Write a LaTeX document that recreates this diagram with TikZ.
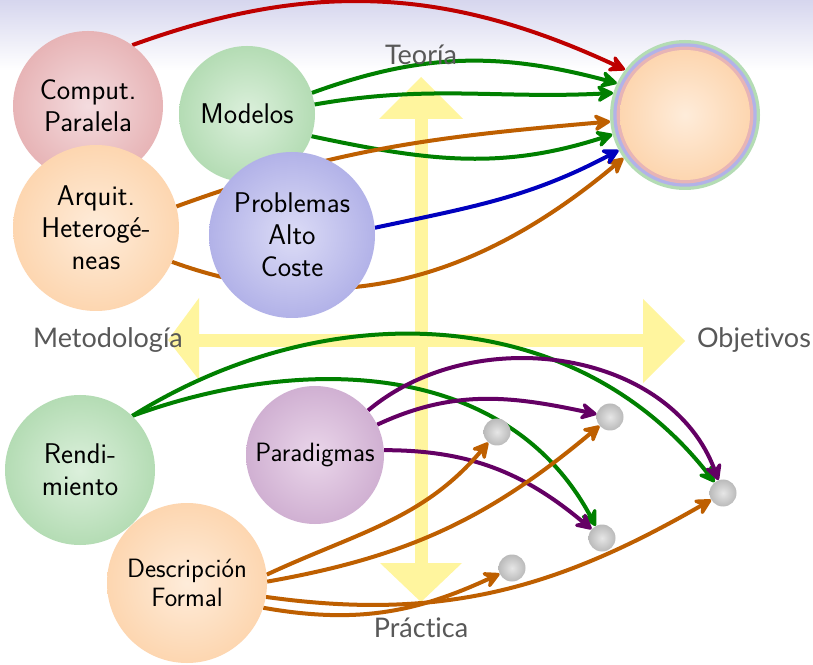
\documentclass[tikz,border=0pt]{standalone}
\usepackage{fontspec}
\newfontfamily\axisfont[Ligatures=NoCommon]{Lato}
\usetikzlibrary{arrows.meta}
\pgfdeclarelayer{back}
\pgfdeclarelayer{links}
\pgfsetlayers{back,links,main}

\definecolor{pinkE}{RGB}{231,180,182}
\definecolor{pinkC}{RGB}{244,220,223}
\definecolor{greenE}{RGB}{180,220,180}
\definecolor{greenC}{RGB}{220,240,220}
\definecolor{peachE}{RGB}{253,214,176}
\definecolor{peachC}{RGB}{254,236,218}
\definecolor{blueE}{RGB}{178,178,232}
\definecolor{blueC}{RGB}{220,220,246}
\definecolor{violetE}{RGB}{208,176,210}
\definecolor{violetC}{RGB}{234,214,234}
\definecolor{dotE}{RGB}{186,186,186}
\definecolor{dotC}{RGB}{230,230,230}
\definecolor{axisYellow}{RGB}{255,245,158}
\definecolor{axisText}{RGB}{88,88,88}
\definecolor{cRed}{RGB}{190,0,0}
\definecolor{cGreen}{RGB}{0,128,0}
\definecolor{cOrange}{RGB}{190,95,0}
\definecolor{cBlue}{RGB}{0,0,190}
\definecolor{cViolet}{RGB}{100,0,100}
\definecolor{topBand}{RGB}{214,214,238}

\newcommand\bubblefont{\fontsize{28.5}{32}\selectfont\sffamily}
\newcommand\smallbubblefont{\fontsize{26.5}{29}\selectfont\sffamily}

\begin{document}
\begin{tikzpicture}[x=1pt,y=1pt,
  bubble/.style={circle, inner sep=0pt, align=center, font=\bubblefont, text=black},
  goal/.style={circle, inner sep=0pt, minimum size=27pt, inner color=dotC, outer color=dotE},
  axislabel/.style={font=\axisfont\fontsize{27}{32}\selectfont, text=axisText, anchor=base, inner sep=0pt},
  link/.style={line width=4pt, -{Stealth[length=21pt,width=22pt,inset=8pt,round]}}]
\useasboundingbox (0,0) rectangle (813,664);

% header band and the two axes
\begin{pgfonlayer}{back}
  \fill[white] (0,0) rectangle (813,664);
  \shade[top color=topBand, bottom color=white] (0,594) rectangle (813,664);
  \fill[axisYellow] (414.5,101) rectangle (427.5,545);
  \fill[axisYellow] (379,545) -- (463,545) -- (421,587) -- cycle;
  \fill[axisYellow] (380,101) -- (462,101) -- (421,62) -- cycle;
  \fill[axisYellow] (199,317) rectangle (643,330);
  \fill[axisYellow] (199,366) -- (199,284) -- (168,324) -- cycle;
  \fill[axisYellow] (643,365) -- (643,281) -- (685,323) -- cycle;
\end{pgfonlayer}

\node[axislabel] (teo) at (421,599) {Teoría};
\node[axislabel] (pra) at (421,27) {Práctica};
\node[axislabel] (met) at (108,316) {Metodología};
\node[axislabel] (obj) at (754,316) {Objetivos};

% upper group
\node[bubble, minimum size=150pt, inner color=pinkC, outer color=pinkE] (comp) at (88,558) {Comput.\\Paralela};
\node[bubble, minimum size=136pt, inner color=greenC, outer color=greenE] (mod) at (247,550) {Modelos};
\node[bubble, minimum size=166pt, inner color=peachC, outer color=peachE] (arq) at (96,436) {Arquit.\\Heterogé-\\neas};
\node[bubble, minimum size=166pt, inner color=blueC, outer color=blueE] (prob) at (292,429) {Problemas\\Alto\\Coste};

% target with coloured rings
\node[circle, inner sep=0pt, minimum size=150pt, fill=greenE] (tgt) at (685,549) {};
\fill[blueE] (tgt.center) circle[radius=71.7pt];
\fill[pinkE] (tgt.center) circle[radius=68.4pt];
\shade[inner color=peachC, outer color=peachE] (tgt.center) circle[radius=65pt];

% lower group
\node[bubble, minimum size=150pt, inner color=greenC, outer color=greenE] (rend) at (80,194) {Rendi-\\miento};
\node[bubble, minimum size=138pt, inner color=violetC, outer color=violetE, font=\smallbubblefont] (para) at (315,209) {Paradigmas};
\node[bubble, minimum size=160pt, inner color=peachC, outer color=peachE, font=\smallbubblefont] (desc) at (187,81) {Descripción\\Formal};

\node[goal] (dA) at (497,232) {};
\node[goal] (dB) at (610,247) {};
\node[goal] (dC) at (723,171) {};
\node[goal] (dD) at (602,126) {};
\node[goal] (dE) at (512,96) {};

\begin{pgfonlayer}{links}
  \draw[link, cRed] (comp.54) to[out=20, in=155] (tgt.143);
  \draw[link, cGreen] (mod.18) to[out=20, in=165] (tgt.155);
  \draw[link, cGreen] (mod.8) to[out=10, in=183] (tgt.163);
  \draw[link, cGreen] (mod.-19) to[out=-12, in=198] (tgt.195);
  \draw[link, cOrange] (arq.15) to[out=20, in=185] (tgt.185);
  \draw[link, cOrange] (arq.-24) to[out=-20, in=220] (tgt.215);
  \draw[link, cBlue] (prob.5) to[out=12, in=208] (tgt.208);

  \draw[link, cGreen] (rend.46) to[out=32, in=128] (dC.128);
  \draw[link, cGreen] (rend.46) to[out=20, in=118] (dD.118);
  \draw[link, cViolet] (para.40) to[out=40, in=110] (dC.110);
  \draw[link, cViolet] (para.26) to[out=25, in=168] (dB.168);
  \draw[link, cViolet] (para.4) to[out=0, in=140] (dD.140);
  \draw[link, cOrange] (desc.6) to[out=25, in=230] (dA.230);
  \draw[link, cOrange] (desc.1) to[out=10, in=220] (dB.220);
  \draw[link, cOrange] (desc.-10) to[out=-8, in=210] (dC.210);
  \draw[link, cOrange] (desc.-18) to[out=-10, in=205] (dE.205);
\end{pgfonlayer}
\end{tikzpicture}
\end{document}
